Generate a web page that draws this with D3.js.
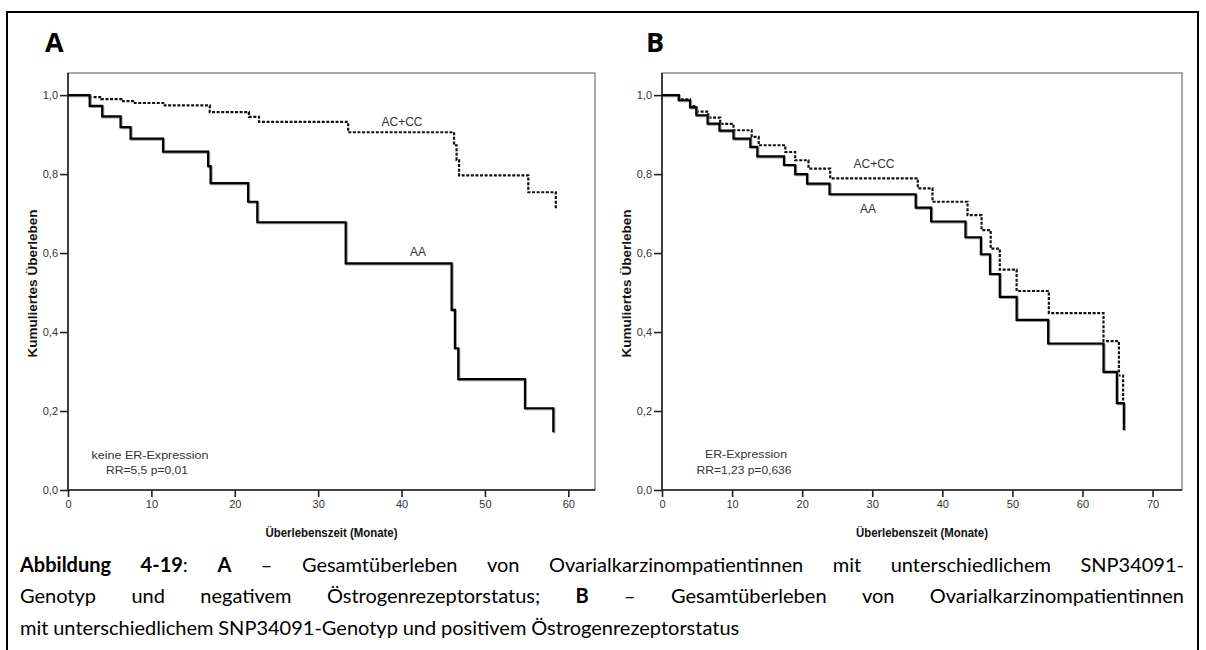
<!DOCTYPE html>
<html>
<head>
<meta charset="utf-8">
<script src="https://cdn.jsdelivr.net/npm/d3@7"></script>
<style>
  body { margin: 0; background: #fff; }
  svg { display: block; }
</style>
</head>
<body>
<svg id="fig" width="1206" height="650"></svg>
<script>
// ---- data -------------------------------------------------------------
const yTicks  = [0, 0.2, 0.4, 0.6, 0.8, 1.0];
const xTicksA = [0, 10, 20, 30, 40, 50, 60];
const xTicksB = [0, 10, 20, 30, 40, 50, 60, 70];

// Panel A (keine ER-Expression): Kaplan-Meier steps, time in months
const timeA_AA   = [0, 2.6, 4.1, 6.3, 7.5, 11.4, 16.8, 17.1, 21.6, 22.7, 33.3, 46.0, 46.4, 46.8, 54.8, 58.2];
const survA_AA   = [1.0, 0.973, 0.946, 0.919, 0.890, 0.857, 0.820, 0.777, 0.730, 0.678, 0.574, 0.456, 0.359, 0.281, 0.207, 0.146];
const timeA_ACCC = [0, 2.6, 4.0, 6.4, 7.8, 11.6, 17.0, 21.7, 22.9, 33.6, 46.3, 46.6, 46.9, 55.2, 58.5];
const survA_ACCC = [1.0, 0.995, 0.990, 0.985, 0.980, 0.974, 0.957, 0.945, 0.932, 0.906, 0.873, 0.835, 0.797, 0.754, 0.713];

// Panel B (ER-Expression)
const timeB_AA   = [0, 2.4, 4.0, 4.9, 6.5, 8.2, 10.2, 12.6, 13.6, 17.4, 19.0, 20.7, 23.9, 36.2, 38.4, 43.3, 45.5, 46.8, 48.2, 50.6, 55.1, 63.0, 64.9, 65.9];
const survB_AA   = [1.0, 0.987, 0.969, 0.949, 0.928, 0.910, 0.890, 0.869, 0.845, 0.823, 0.800, 0.776, 0.749, 0.715, 0.680, 0.640, 0.597, 0.547, 0.489, 0.431, 0.371, 0.299, 0.220, 0.152];
const timeB_ACCC = [0, 2.4, 4.0, 4.9, 6.6, 8.3, 10.2, 12.8, 13.8, 17.6, 19.0, 20.9, 24.0, 36.5, 38.6, 43.6, 45.6, 46.9, 48.2, 50.6, 55.2, 63.0, 65.2, 65.8];
const survB_ACCC = [1.0, 0.989, 0.972, 0.958, 0.943, 0.927, 0.911, 0.894, 0.873, 0.856, 0.835, 0.814, 0.789, 0.764, 0.730, 0.696, 0.658, 0.611, 0.558, 0.504, 0.448, 0.377, 0.290, 0.222];

// ---- drawing ----------------------------------------------------------
const svg = d3.select("#fig");
const chartFont = "'Liberation Sans', Arial, sans-serif";
const captionFont = "Lato, 'Open Sans', sans-serif";

// outer frame around the whole figure
svg.append("rect")
  .attr("x", 7).attr("y", 12).attr("width", 1191).attr("height", 700)
  .attr("fill", "none").attr("stroke", "#000").attr("stroke-width", 2);

const fmt = v => d3.format(".1f")(v).replace(".", ",");

function panel(cfg) {
  const g = svg.append("g");
  const x = d3.scaleLinear().domain([0, cfg.xMax]).range([cfg.left, cfg.right]);
  const y = d3.scaleLinear().domain([0, 1.056]).range([cfg.bottom, cfg.top]);

  // panel letter
  g.append("text").attr("x", cfg.letterX).attr("y", 52)
    .attr("font-family", "'Open Sans', sans-serif").attr("font-weight", 700)
    .attr("font-size", 27).attr("fill", "#000").text(cfg.letter);

  // plot box
  g.append("rect")
    .attr("x", cfg.left).attr("y", cfg.top)
    .attr("width", cfg.right - cfg.left).attr("height", cfg.bottom - cfg.top)
    .attr("fill", "none").attr("stroke", "#707070").attr("stroke-width", 1.2);

  // y axis
  const yAxis = d3.axisLeft(y).tickValues(yTicks).tickFormat(fmt).tickSize(8).tickPadding(2);
  const ya = g.append("g").attr("transform", `translate(${cfg.left},0)`).call(yAxis);
  // x axis
  const xAxis = d3.axisBottom(x).tickValues(cfg.xTicks).tickSize(7).tickPadding(3);
  const xa = g.append("g").attr("transform", `translate(0,${cfg.bottom})`).call(xAxis);

  [ya, xa].forEach(a => {
    a.select(".domain").attr("stroke", "#222").attr("stroke-width", 1.6);
    a.selectAll(".tick line").attr("stroke", "#222").attr("stroke-width", 1.6);
    a.selectAll(".tick text").attr("font-family", chartFont).attr("font-size", 11).attr("fill", "#333");
  });
  ya.select(".domain").attr("d", `M0,${cfg.bottom}V${cfg.top}`);
  xa.select(".domain").attr("d", `M${cfg.left},0H${cfg.right}`);

  // axis titles
  g.append("text")
    .attr("transform", `translate(${cfg.left - 31},${(cfg.top + cfg.bottom) / 2 + 2}) rotate(-90)`)
    .attr("text-anchor", "middle").attr("font-family", chartFont).attr("font-weight", 700)
    .attr("font-size", 12).attr("fill", "#111")
    .attr("textLength", 148).attr("lengthAdjust", "spacingAndGlyphs").text("Kumuliertes Überleben");
  g.append("text")
    .attr("x", (cfg.left + cfg.right) / 2).attr("y", 537)
    .attr("text-anchor", "middle").attr("font-family", chartFont).attr("font-weight", 700)
    .attr("font-size", 12).attr("fill", "#111")
    .attr("textLength", 132).attr("lengthAdjust", "spacingAndGlyphs").text("Überlebenszeit (Monate)");

  // survival curves (solid line gets a faint grey edge like the printed original)
  const line = d3.line().x(d => x(d[0])).y(d => y(d[1])).curve(d3.curveStepAfter);
  const solid = d3.zip(cfg.timeAA, cfg.survAA);
  const dotted = d3.zip(cfg.timeAC, cfg.survAC);
  g.append("path").attr("d", line(dotted)).attr("fill", "none")
    .attr("stroke", "#111").attr("stroke-width", 2.2).attr("stroke-dasharray", "3,1.6");
  g.append("path").attr("d", line(solid)).attr("fill", "none")
    .attr("transform", "translate(1,1)")
    .attr("stroke", "#9a9a9a").attr("stroke-width", 2.2);
  g.append("path").attr("d", line(solid)).attr("fill", "none")
    .attr("stroke", "#000").attr("stroke-width", 2.2);

  // curve labels
  const lab = (t, px, py) => g.append("text").attr("x", px).attr("y", py)
    .attr("text-anchor", "middle").attr("font-family", chartFont)
    .attr("font-size", 12).attr("fill", "#333").text(t);
  lab("AC+CC", cfg.acLabel[0], cfg.acLabel[1]);
  lab("AA", cfg.aaLabel[0], cfg.aaLabel[1]);

  // statistics note
  cfg.note.forEach(n => {
    g.append("text").attr("x", n.cx).attr("y", n.y)
      .attr("text-anchor", "middle").attr("font-family", chartFont)
      .attr("font-size", 11.5).attr("fill", "#333")
      .attr("textLength", n.w).attr("lengthAdjust", "spacingAndGlyphs").text(n.t);
  });
}

panel({
  letter: "A", letterX: 45,
  left: 68, right: 595, top: 73, bottom: 490, xMax: 63.2, xTicks: xTicksA,
  timeAA: timeA_AA, survAA: survA_AA, timeAC: timeA_ACCC, survAC: survA_ACCC,
  acLabel: [402, 126], aaLabel: [418, 256],
  note: [{ t: "keine ER-Expression", cx: 150, y: 459, w: 117 },
         { t: "RR=5,5 p=0,01", cx: 147, y: 474, w: 82 }]
});

panel({
  letter: "B", letterX: 646,
  left: 662, right: 1182, top: 73, bottom: 490, xMax: 74.2, xTicks: xTicksB,
  timeAA: timeB_AA, survAA: survB_AA, timeAC: timeB_ACCC, survAC: survB_ACCC,
  acLabel: [874, 168], aaLabel: [868, 213],
  note: [{ t: "ER-Expression", cx: 746, y: 458, w: 82 },
         { t: "RR=1,23 p=0,636", cx: 744, y: 474, w: 95 }]
});

// ---- caption (justified block) ------------------------------------------
const captionLines = [
  { justify: true,  runs: [["Abbildung 4-19", 1], [": ", 0], ["A", 1], [" – Gesamtüberleben von Ovarialkarzinompatientinnen mit unterschiedlichem SNP34091-", 0]] },
  { justify: true,  runs: [["Genotyp und negativem Östrogenrezeptorstatus; ", 0], ["B", 1], [" – Gesamtüberleben von Ovarialkarzinompatientinnen", 0]] },
  { justify: false, runs: [["mit unterschiedlichem SNP34091-Genotyp und positivem Östrogenrezeptorstatus", 0]] }
];
const capLeft = 20, capRight = 1184, capSize = 20;
const capBase = [572, 603, 635];

captionLines.forEach((ln, li) => {
  // split runs into words, keeping bold/regular pieces of each word
  const words = [[]];
  ln.runs.forEach(([txt, b]) => {
    txt.split(/( )/).forEach(p => {
      if (p === " ") { if (words[words.length - 1].length) words.push([]); }
      else if (p.length) words[words.length - 1].push([p, b]);
    });
  });
  const nodes = words.filter(w => w.length).map(w => {
    const t = svg.append("text").attr("y", capBase[li])
      .attr("font-family", captionFont).attr("font-size", capSize).attr("fill", "#000");
    w.forEach(([p, b]) => t.append("tspan").attr("font-weight", b ? 700 : 400).text(p));
    return t;
  });
  const widths = nodes.map(n => n.node().getComputedTextLength());
  const space = capSize * 0.24;
  const total = d3.sum(widths);
  const gap = ln.justify ? (capRight - capLeft - total) / (nodes.length - 1) : space;
  let cx = capLeft;
  nodes.forEach((n, i) => { n.attr("x", cx); cx += widths[i] + gap; });
});
</script>
</body>
</html>
